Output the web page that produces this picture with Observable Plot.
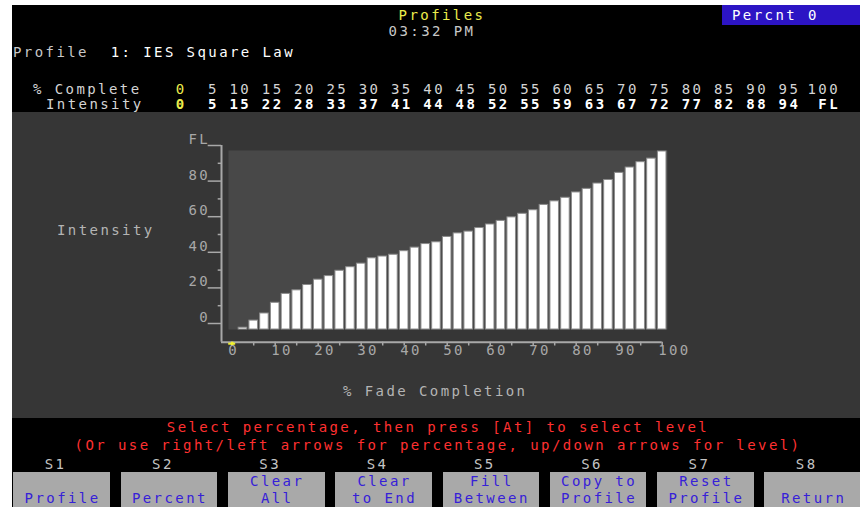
<!DOCTYPE html>
<html><head><meta charset="utf-8">
<script src="https://cdn.jsdelivr.net/npm/d3@7"></script>
<script src="https://cdn.jsdelivr.net/npm/@observablehq/plot@0.6"></script>
<style>
html,body{margin:0;padding:0;background:#fff;width:860px;height:507px;overflow:hidden;position:relative}
.box{position:absolute}
.t{position:absolute;font-family:"DejaVu Sans Mono",monospace;font-size:14px;line-height:14px;letter-spacing:2.42px;white-space:pre}
.b{font-weight:bold}
#chart{position:absolute;left:12px;top:112px;width:848px;height:306px}
</style></head><body>
<div class="box" style="left:12px;top:5px;width:848px;height:502px;background:#000"></div>
<div id="chart"></div>
<script>
// ---- data ----
const pctLabels = ["0","5","10","15","20","25","30","35","40","45","50","55","60","65","70","75","80","85","90","95","100"];
const intensityLabels = ["0","5","15","22","28","33","37","41","44","48","52","55","59","63","67","72","77","82","88","94","FL"];
const barPct = [2.5,5,7.5,10,12.5,15,17.5,20,22.5,25,27.5,30,32.5,35,37.5,40,42.5,45,47.5,50,52.5,55,57.5,60,62.5,65,67.5,70,72.5,75,77.5,80,82.5,85,87.5,90,92.5,95,97.5,100];
const barIntensity = [1,5,9,15,20,22,25,28,30,33,35,37,40,41,42,44,46,48,49,52,54,55,57,59,61,63,65,67,70,72,74,77,79,82,84,88,91,94,96,100];
const yMajorTicks = [0,20,40,60,80,100];
const yMajorLabels = ["0","20","40","60","80","FL"];
const yMinorTicks = [10,30,50,70,90];
const xTicks = [5,10,15,20,25,30,35,40,45,50,55,60,65,70,75,80,85,90,95,100];
const xLabels = [0,10,20,30,40,50,60,70,80,90,100];
const selectedPct = [0];
const softkeyNames = ["S1","S2","S3","S4","S5","S6","S7","S8"];
const softkeyLabels = [["","Profile"],["","Percent"],["Clear","All"],["Clear","to End"],["Fill","Between"],["Copy to","Profile"],["Reset","Profile"],["","Return"]];
const prompts = ["Select percentage, then press [At] to select level","(Or use right/left arrows for percentage, up/down arrows for level)"];

const bars = barPct.map((p, i) => ({p, v: barIntensity[i]}));

// ---- screen text ----
const CELL = 10.85;
function txt(str, x, yc, color, anchor = "start", cls = "") {
  const d = document.createElement("div");
  d.className = "t " + cls;
  d.textContent = str;
  d.style.color = color;
  d.style.top = (yc - 7) + "px";
  d.style.left = x + "px";
  if (anchor === "middle") d.style.transform = "translateX(-50%)";
  if (anchor === "end") d.style.transform = "translateX(-100%)";
  document.body.appendChild(d);
  return d;
}
const YEL = "#ecec4c", GRY = "#c8c8c8", WHT = "#ffffff";
txt("Profiles", 442, 15, YEL, "middle");
txt("03:32 PM", 432, 31, GRY, "middle");
const pb = document.createElement("div");
pb.className = "box";
Object.assign(pb.style, {left: "722px", top: "5px", width: "138px", height: "20px", background: "#2c14c4"});
document.body.appendChild(pb);
txt("Percnt 0", 732, 15, WHT);
txt("Profile", 13, 51.5, GRY);
txt("1: IES Square Law", 13 + 9 * CELL, 51.5, WHT);

txt("% Complete", 33, 88.5, "#d4d4d4");
txt("Intensity", 46, 103.5, "#d4d4d4");
pctLabels.forEach((s, i) => {
  const r = i < 20 ? 186.6 + 32.3 * i : 840;
  txt(s, r - s.length * CELL, 88.5, i === 0 ? YEL : "#d4d4d4");
});
intensityLabels.forEach((s, i) => {
  const r = i < 20 ? 186.6 + 32.3 * i : 840;
  txt(s, r - s.length * CELL, 103.5, i === 0 ? YEL : WHT, "start", "b");
});

txt("Intensity", 57, 229.5, "#b4b4b4");
txt("% Fade Completion", 343, 390.5, "#b4b4b4");

txt(prompts[0], 438, 426.7, "#ff3030", "middle");
txt(prompts[1], 438, 444.5, "#ff3030", "middle");

softkeyNames.forEach((s, k) => {
  const left = 13.3 + 107.3 * k;
  const c = left + 48.3;
  txt(s, c - 6, 464, "#c4c4c4", "middle");
  const b = document.createElement("div");
  b.className = "box";
  Object.assign(b.style, {left: left + "px", top: "472px", width: "96.7px", height: "35px", background: "#a9a9a9"});
  document.body.appendChild(b);
  const [l1, l2] = softkeyLabels[k];
  if (l1) txt(l1, c + 1, 481, "#3620d8", "middle");
  txt(l2, c + 1, 498, "#3620d8", "middle");
});

// ---- chart ----
const AX = "#a8a8a8";
const chart = Plot.plot({
  width: 848, height: 306,
  marginLeft: 219.7, marginRight: 198.3, marginTop: 33, marginBottom: 95,
  x: {domain: [0, 100], axis: null},
  y: {domain: [0, 100], axis: null},
  style: {background: "#363636", color: AX, fontFamily: "DejaVu Sans Mono", fontSize: "14px", letterSpacing: "2.4px", overflow: "visible"},
  marks: [
    Plot.frame({fill: "#484848", stroke: "none", insetLeft: -3.7, insetRight: -5.3, insetTop: 5, insetBottom: -6}),
    Plot.rect(bars, {x1: d => d.p - 1.25, x2: d => d.p + 1.25, y1: 0, y2: "v", fill: "#ffffff", stroke: "#8c8c8c", strokeWidth: 1, insetLeft: 1.1, insetRight: 1.1, dy: 6}),
    Plot.ruleX([0], {dx: -10.7, insetBottom: -18.7, stroke: AX, strokeWidth: 2}),
    Plot.ruleY([0], {dy: 18.7, insetLeft: -10.7, stroke: AX, strokeWidth: 2}),
    Plot.ruleY(yMajorTicks, {x1: 0, x2: 0, insetLeft: -24, insetRight: 10.7, stroke: AX, strokeWidth: 1.5}),
    Plot.ruleY(yMinorTicks, {x1: 0, x2: 0, insetLeft: -14, insetRight: 10.7, stroke: AX, strokeWidth: 1.5}),
    Plot.text(yMajorTicks, {x: 0, y: d => d, text: (d, i) => yMajorLabels[i], textAnchor: "end", dx: -22, dy: -6, fill: AX, fontSize: 14}),
    Plot.ruleX(xTicks, {y1: 0, y2: 0, insetTop: 18.7, insetBottom: -22.5, stroke: AX, strokeWidth: 1.5}),
    Plot.ruleX(selectedPct, {y1: 0, y2: 0, insetTop: 18.7, insetBottom: -23, stroke: "#f0f030", strokeWidth: 2.5}),
    Plot.ruleY([0], {x1: selectedPct[0], x2: selectedPct[0], insetLeft: -3.5, insetRight: -3.5, dy: 20.2, stroke: "#f0f030", strokeWidth: 2}),
    Plot.text(xLabels, {x: d => d, frameAnchor: "bottom", text: d => String(d), textAnchor: "start", dx: -4, dy: 31, fill: AX, fontSize: 14})
  ]
});
document.getElementById("chart").appendChild(chart);
</script>
</body></html>
